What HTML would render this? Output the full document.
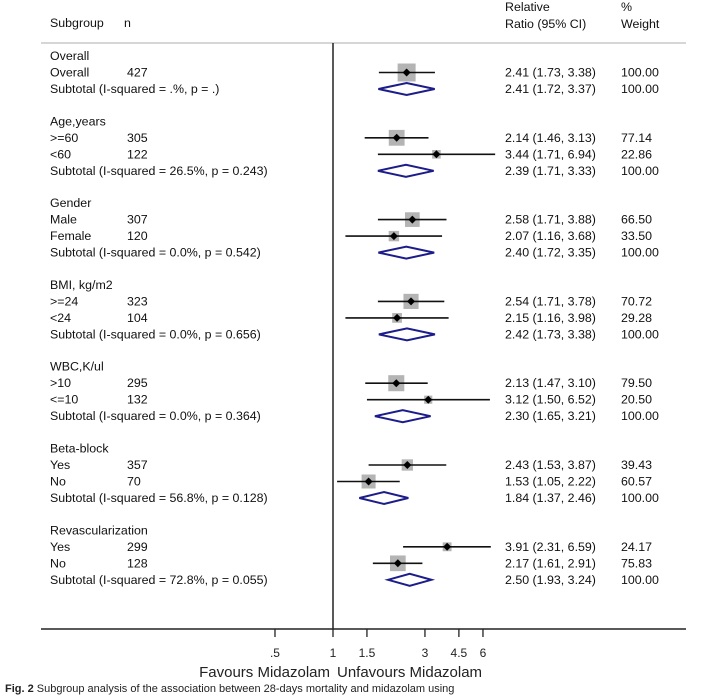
<!DOCTYPE html>
<html><head><meta charset="utf-8"><style>
html,body{margin:0;padding:0;background:#fff;width:714px;height:697px;overflow:hidden}
svg{display:block;font-family:"Liberation Sans",sans-serif}
</style></head><body>
<svg id="chart" width="714" height="697" viewBox="0 0 714 697" xmlns="http://www.w3.org/2000/svg">
<g font-size="12.4" fill="#111">
<text x="50" y="27">Subgroup</text>
<text x="124" y="27">n</text>
<text x="505" y="11">Relative</text>
<text x="505" y="28">Ratio (95% CI)</text>
<text x="621" y="11">%</text>
<text x="621" y="28">Weight</text>
</g>
<line x1="41" y1="43" x2="686" y2="43" stroke="#c8c8c8" stroke-width="1.5"/>
<line x1="333" y1="43" x2="333" y2="629" stroke="#222" stroke-width="1.5"/>
<line x1="41" y1="629" x2="686" y2="629" stroke="#222" stroke-width="1.5"/>
<g id="ticks"></g>
<g id="rows"></g>
<text x="330" y="677" text-anchor="end" font-size="15" fill="#222">Favours Midazolam</text>
<text x="337" y="677" font-size="15" fill="#222">Unfavours Midazolam</text>
<text x="5" y="692" font-size="11" fill="#222"><tspan font-weight="bold">Fig. 2</tspan>  Subgroup analysis of the association between 28-days mortality and midazolam using</text>
</svg>
<script>
const tickValues = [0.5, 1, 1.5, 3, 4.5, 6];
const tickLabels = [".5", "1", "1.5", "3", "4.5", "6"];
const rowLabels = ["Overall","Overall","Subtotal  (I-squared = .%, p = .)",
 "Age,years",">=60","<60","Subtotal  (I-squared = 26.5%, p = 0.243)",
 "Gender","Male","Female","Subtotal  (I-squared = 0.0%, p = 0.542)",
 "BMI, kg/m2",">=24","<24","Subtotal  (I-squared = 0.0%, p = 0.656)",
 "WBC,K/ul",">10","<=10","Subtotal  (I-squared = 0.0%, p = 0.364)",
 "Beta-block","Yes","No","Subtotal  (I-squared = 56.8%, p = 0.128)",
 "Revascularization","Yes","No","Subtotal  (I-squared = 72.8%, p = 0.055)"];
const rowTypes = ["h","s","d","h","s","s","d","h","s","s","d","h","s","s","d","h","s","s","d","h","s","s","d","h","s","s","d"];
const rowN = ["","427","","","305","122","","","307","120","","","323","104","","","295","132","","","357","70","","","299","128",""];
const estimates = [null,2.41,2.41,null,2.14,3.44,2.39,null,2.58,2.07,2.40,null,2.54,2.15,2.42,null,2.13,3.12,2.30,null,2.43,1.53,1.84,null,3.91,2.17,2.50];
const lowers = [null,1.73,1.72,null,1.46,1.71,1.71,null,1.71,1.16,1.72,null,1.71,1.16,1.73,null,1.47,1.50,1.65,null,1.53,1.05,1.37,null,2.31,1.61,1.93];
const uppers = [null,3.38,3.37,null,3.13,6.94,3.33,null,3.88,3.68,3.35,null,3.78,3.98,3.38,null,3.10,6.52,3.21,null,3.87,2.22,2.46,null,6.59,2.91,3.24];
const weights = [null,100,100,null,77.14,22.86,100,null,66.50,33.50,100,null,70.72,29.28,100,null,79.50,20.50,100,null,39.43,60.57,100,null,24.17,75.83,100];

const NS = "http://www.w3.org/2000/svg";
function xScale(v){ return 333 + 83.7 * Math.log(v); }
const rowY = [];
(function(){ let y = 56;
 for (let i=0;i<rowTypes.length;i++){
  if (rowTypes[i]==="h" && i>0){ y += 32.3; }
  else if (i>0){ y += 16.5; }
  rowY.push(y);
 }})();
function el(tag, attrs, parent){ const e=document.createElementNS(NS,tag); for(const k in attrs) e.setAttribute(k,attrs[k]); parent.appendChild(e); return e; }

const tg = document.getElementById("ticks");
tickValues.forEach((v,i)=>{
 const x = xScale(v);
 const t = el("line",{x1:x,y1:629,x2:x,y2:637,stroke:"#222","stroke-width":1.3},tg);
 
 
 const lb = el("text",{x:x,y:657,"text-anchor":"middle","font-size":12,fill:"#222"},tg);
 
 
 lb.textContent = tickLabels[i];
});

const rg = document.getElementById("rows");
rowLabels.forEach((lab,i)=>{
 const y = rowY[i];
 const t = el("text",{x:50,y:y+4,"font-size":12.4,fill:"#111"},rg);
 
 
 t.textContent = lab;
 if (rowN[i]) {
  const n = el("text",{x:127,y:y+4,"font-size":12.4,fill:"#111"},rg);
  
  
  n.textContent = rowN[i];
 }
 if (rowTypes[i]==="h") return;
 const e=estimates[i], lo=lowers[i], hi=uppers[i], w=weights[i];
 const rr = el("text",{x:505,y:y+4,"font-size":12.4,fill:"#111"},rg);
 
 
 rr.textContent = e.toFixed(2)+" ("+lo.toFixed(2)+", "+hi.toFixed(2)+")";
 const wt = el("text",{x:621,y:y+4,"font-size":12.4,fill:"#111"},rg);
 
 
 wt.textContent = w.toFixed(2);
 if (rowTypes[i]==="d") {
  const xl=xScale(lo), xe=xScale(e), xh=xScale(hi);
  const d = el("polygon",{points:`${xl},${y} ${xe},${y-6} ${xh},${y} ${xe},${y+6}`,fill:"#fff",stroke:"#1c1c8a","stroke-width":2},rg);
  
  
 } else {
  const s = 18*Math.sqrt(w/100), xe=xScale(e);
  const b = el("rect",{x:xe-s/2,y:y-s/2,width:s,height:s,fill:"#b4b4b4"},rg);
  
  
  const ci = el("line",{x1:xScale(lo),y1:y,x2:xScale(hi),y2:y,stroke:"#111","stroke-width":1.6},rg);
  
  
  const p = el("polygon",{points:`${xe-4},${y} ${xe},${y-4} ${xe+4},${y} ${xe},${y+4}`,fill:"#000"},rg);
  
  
 }
});
</script>
</body></html>
